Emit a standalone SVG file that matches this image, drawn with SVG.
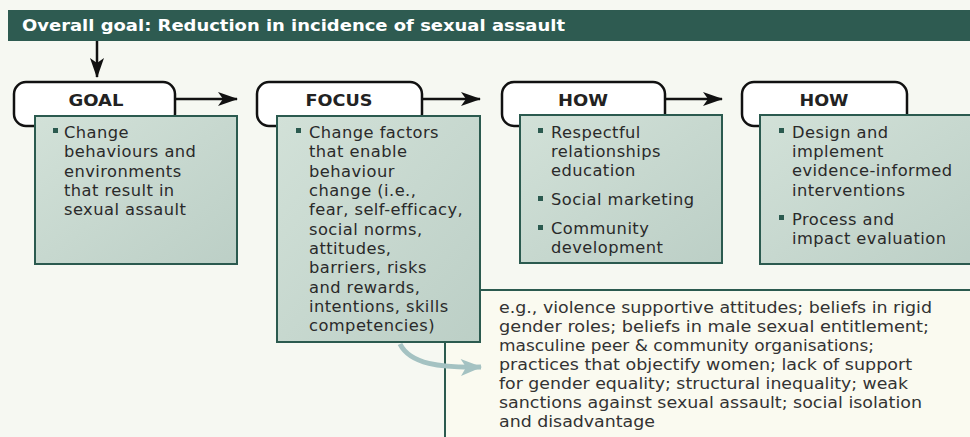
<svg xmlns="http://www.w3.org/2000/svg" width="970" height="437" viewBox="0 0 970 437">
<defs>
<linearGradient id="gbox" x1="0" y1="0" x2="1" y2="1">
<stop offset="0" stop-color="#d2e1d8"/>
<stop offset="1" stop-color="#bccfc6"/>
</linearGradient>
<marker id="ah" viewBox="0 0 20 14" refX="19" refY="7" markerWidth="20" markerHeight="14" markerUnits="userSpaceOnUse" orient="auto">
<path d="M0,0 L20,7 L0,14 L5,7 Z" fill="#111"/>
</marker>
<marker id="ahl" viewBox="0 0 20 16" refX="19" refY="8" markerWidth="22" markerHeight="17" markerUnits="userSpaceOnUse" orient="auto">
<path d="M0,0 L20,8 L0,16 L5,8 Z" fill="#a4c2c2"/>
</marker>
</defs>
<style>
.tab{fill:#ffffff;stroke:#111;stroke-width:2.5}
.box{fill:url(#gbox);stroke:#2b5a4f;stroke-width:2}
.hd{font-family:"DejaVu Sans","Open Sans",sans-serif;font-weight:700;font-size:16.5px;fill:#222;text-anchor:middle}
.tx{font-family:"DejaVu Sans","Open Sans",sans-serif;font-size:16.3px;fill:#2a2a2a;letter-spacing:0.45px}
.ex{font-family:"DejaVu Sans","Open Sans",sans-serif;font-size:16.3px;fill:#333}
.bul{fill:#2b5a4f}
.con{stroke:#111;stroke-width:2.5;fill:none}
</style>
<rect x="0" y="0" width="970" height="437" fill="#f6f8f2"/>
<g id="title">
<rect x="8" y="10" width="962" height="31" fill="#2e5b51"/>
<text x="22" y="31" font-family="DejaVu Sans, Open Sans, sans-serif" font-weight="700" font-size="16" fill="#ffffff" textLength="543" lengthAdjust="spacingAndGlyphs">Overall goal: Reduction in incidence of sexual assault</text>
</g>
<g id="examples">
<rect x="445" y="290" width="530" height="160" fill="#fafaf0" stroke="#2b5a4f" stroke-width="2"/>
<text class="ex" x="499" y="313" textLength="433" lengthAdjust="spacingAndGlyphs">e.g., violence supportive attitudes; beliefs in rigid</text>
<text class="ex" x="499" y="332" textLength="430" lengthAdjust="spacingAndGlyphs">gender roles; beliefs in male sexual entitlement;</text>
<text class="ex" x="499" y="351" textLength="375" lengthAdjust="spacingAndGlyphs">masculine peer &amp; community organisations;</text>
<text class="ex" x="499" y="370" textLength="413" lengthAdjust="spacingAndGlyphs">practices that objectify women; lack of support</text>
<text class="ex" x="499" y="389" textLength="409" lengthAdjust="spacingAndGlyphs">for gender equality; structural inequality; weak</text>
<text class="ex" x="499" y="408" textLength="423" lengthAdjust="spacingAndGlyphs">sanctions against sexual assault; social isolation</text>
<text class="ex" x="499" y="427" textLength="156" lengthAdjust="spacingAndGlyphs">and disadvantage</text>
</g>
<g id="connectors">
<line class="con" x1="97" y1="41" x2="97" y2="77" marker-end="url(#ah)"/>
<line class="con" x1="175" y1="99" x2="237" y2="99" marker-end="url(#ah)"/>
<line class="con" x1="422" y1="99" x2="480" y2="99" marker-end="url(#ah)"/>
<line class="con" x1="665" y1="99" x2="722" y2="99" marker-end="url(#ah)"/>
</g>
<g id="goal">
<rect class="tab" x="14" y="82" width="161" height="44" rx="12"/>
<text class="hd" x="96" y="106" textLength="55" lengthAdjust="spacingAndGlyphs">GOAL</text>
<rect class="box" x="35" y="116" width="202" height="148"/>
<rect class="bul" x="53" y="128" width="5" height="5"/>
<text class="tx">
<tspan x="64" y="138">Change</tspan>
<tspan x="64" y="157">behaviours and</tspan>
<tspan x="64" y="177">environments</tspan>
<tspan x="64" y="196">that result in</tspan>
<tspan x="64" y="215">sexual assault</tspan>
</text>
</g>
<g id="focus">
<rect class="tab" x="257" y="82" width="165" height="44" rx="12"/>
<text class="hd" x="339" y="106" textLength="67" lengthAdjust="spacingAndGlyphs">FOCUS</text>
<rect class="box" x="277" y="116" width="203" height="226"/>
<rect class="bul" x="296" y="128" width="5" height="5"/>
<text class="tx">
<tspan x="309" y="138">Change factors</tspan>
<tspan x="309" y="157">that enable</tspan>
<tspan x="309" y="177">behaviour</tspan>
<tspan x="309" y="196">change (i.e.,</tspan>
<tspan x="309" y="215">fear, self-efficacy,</tspan>
<tspan x="309" y="235">social norms,</tspan>
<tspan x="309" y="254">attitudes,</tspan>
<tspan x="309" y="273">barriers, risks</tspan>
<tspan x="309" y="293">and rewards,</tspan>
<tspan x="309" y="312">intentions, skills</tspan>
<tspan x="309" y="331">competencies)</tspan>
</text>
</g>
<g id="how1">
<rect class="tab" x="502" y="82" width="163" height="44" rx="12"/>
<text class="hd" x="583" y="106" textLength="50" lengthAdjust="spacingAndGlyphs">HOW</text>
<rect class="box" x="520" y="115" width="202" height="148"/>
<rect class="bul" x="538" y="128" width="5" height="5"/>
<text class="tx">
<tspan x="551" y="138">Respectful</tspan>
<tspan x="551" y="157">relationships</tspan>
<tspan x="551" y="176">education</tspan>
</text>
<rect class="bul" x="538" y="196" width="5" height="5"/>
<text class="tx" x="551" y="205">Social marketing</text>
<rect class="bul" x="538" y="225" width="5" height="5"/>
<text class="tx">
<tspan x="551" y="234">Community</tspan>
<tspan x="551" y="253">development</tspan>
</text>
</g>
<g id="how2">
<rect class="tab" x="742" y="82" width="165" height="44" rx="12"/>
<text class="hd" x="824" y="106" textLength="49" lengthAdjust="spacingAndGlyphs">HOW</text>
<rect class="box" x="760" y="115" width="220" height="149"/>
<rect class="bul" x="779" y="128" width="5" height="5"/>
<text class="tx">
<tspan x="792" y="138">Design and</tspan>
<tspan x="792" y="157">implement</tspan>
<tspan x="792" y="176">evidence-informed</tspan>
<tspan x="792" y="196">interventions</tspan>
</text>
<rect class="bul" x="779" y="215" width="5" height="5"/>
<text class="tx">
<tspan x="792" y="225">Process and</tspan>
<tspan x="792" y="244">impact evaluation</tspan>
</text>
</g>
<g id="curved-connector">
<path d="M400,344 C410,364 440,368 481,367" fill="none" stroke="#a4c2c2" stroke-width="5" marker-end="url(#ahl)"/>
</g>
</svg>
